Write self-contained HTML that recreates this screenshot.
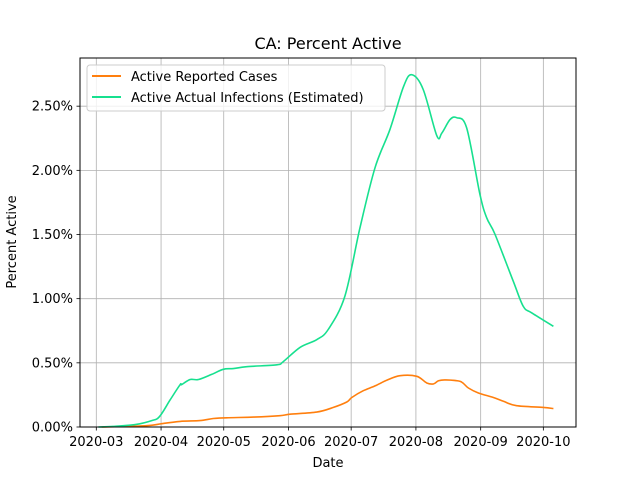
<!DOCTYPE html>
<html><head><meta charset="utf-8"><style>
body{margin:0;background:#fff;font-family:"Liberation Sans","DejaVu Sans",sans-serif}
svg text{font-family:"DejaVu Sans","Liberation Sans",sans-serif}
</style></head><body>
<svg id="chart" width="640" height="480" xmlns="http://www.w3.org/2000/svg">
<rect width="640" height="480" fill="#fff"/>
<text x="328" y="49" text-anchor="middle" font-size="16">CA: Percent Active</text>
<g id="grid"></g>
<g id="series"></g>
<rect x="80" y="58" width="496" height="369" fill="none" stroke="#000" stroke-width="1"/>
<g id="axes"></g>
<text x="328" y="467" text-anchor="middle" font-size="13">Date</text>
<text transform="translate(16,242) rotate(-90)" text-anchor="middle" font-size="13">Percent Active</text>
<g>
<rect x="87" y="65" width="298" height="46" rx="3" fill="#fff" fill-opacity="0.8" stroke="#ccc"/>
<line x1="92" y1="76" x2="121" y2="76" stroke="#ff7f0e" stroke-width="2"/>
<text x="131" y="81" font-size="13">Active Reported Cases</text>
<line x1="92" y1="97" x2="121" y2="97" stroke="#17e08f" stroke-width="2"/>
<text x="131" y="102" font-size="13">Active Actual Infections (Estimated)</text>
</g>
</svg>
<script>
const xTickLabels=["2020-03","2020-04","2020-05","2020-06","2020-07","2020-08","2020-09","2020-10"];
const xTickDays=[0,31,61,92,122,153,184,214];
const yTicks=[0,0.5,1.0,1.5,2.0,2.5];
const yTickLabels=["0.00%","0.50%","1.00%","1.50%","2.00%","2.50%"];
const actualDays=[1,8,19,26.5,30.2,35.3,40.1,40.8,44.9,48.9,55.2,60.8,65.6,72,86.4,89.5,97.5,105.5,111,119,126.2,133.4,140.6,147,151,156.5,163,165.4,169.3,172.5,177.3,183.7,186.9,190.9,199.6,204.4,208.4,218.8];
const actualVals=[0,0.005,0.02,0.05,0.08,0.21,0.33,0.33,0.37,0.37,0.41,0.45,0.455,0.47,0.485,0.51,0.62,0.68,0.76,1.02,1.55,2.02,2.32,2.65,2.745,2.63,2.27,2.29,2.395,2.41,2.33,1.81,1.63,1.50,1.135,0.94,0.89,0.785];
const reportedDays=[2.6,24,31.3,40.1,49.6,56,62.4,75.2,87.9,92.7,105.5,113.5,119.9,122.3,127.8,133.4,139,145.4,153.4,158.2,161.4,163.8,167,174.2,178.1,182.9,190.1,194.9,201.2,214,218.8];
const reportedVals=[0,0.01,0.026,0.044,0.05,0.066,0.072,0.077,0.088,0.1,0.116,0.153,0.195,0.23,0.283,0.32,0.364,0.40,0.395,0.343,0.336,0.36,0.367,0.355,0.304,0.265,0.23,0.2,0.166,0.153,0.143];
const NS="http://www.w3.org/2000/svg";
const xS=d=>96.3+d*2.089;
const yS=v=>427-v*128.33;
function mk(tag,attrs,parent){const e=document.createElementNS(NS,tag);for(const k in attrs)e.setAttribute(k,attrs[k]);parent.appendChild(e);return e;}
const grid=document.getElementById('grid'),axes=document.getElementById('axes'),series=document.getElementById('series');
xTickDays.forEach((d,i)=>{
  const x=xS(d);
  const g=mk('line',{x1:x,x2:x,y1:58,y2:427,stroke:'#b0b0b0','stroke-width':0.8},grid);
  
  
  const t=mk('line',{x1:x,x2:x,y1:427,y2:430.5,stroke:'#000','stroke-width':0.8},axes);
  
  
  const l=mk('text',{x:x,y:446,'text-anchor':'middle','font-size':13},axes);
  l.textContent=xTickLabels[i];
  
  
});
yTicks.forEach((v,i)=>{
  const y=yS(v);
  const g=mk('line',{x1:80,x2:576,y1:y,y2:y,stroke:'#b0b0b0','stroke-width':0.8},grid);
  
  
  const t=mk('line',{x1:76.5,x2:80,y1:y,y2:y,stroke:'#000','stroke-width':0.8},axes);
  
  
  const l=mk('text',{x:73,y:y+4.5,'text-anchor':'end','font-size':13},axes);
  l.textContent=yTickLabels[i];
  
  
});
function line(days,vals,color,name){
  const P=days.map((d,i)=>[xS(d),yS(vals[i])]);
  let dstr='M'+P[0][0].toFixed(1)+','+P[0][1].toFixed(1);
  for(let i=0;i<P.length-1;i++){
    const p0=P[Math.max(0,i-1)],p1=P[i],p2=P[i+1],p3=P[Math.min(P.length-1,i+2)];
    const c1=[p1[0]+(p2[0]-p0[0])/6,p1[1]+(p2[1]-p0[1])/6];
    const c2=[p2[0]-(p3[0]-p1[0])/6,p2[1]-(p3[1]-p1[1])/6];
    dstr+=' C'+c1[0].toFixed(1)+','+c1[1].toFixed(1)+' '+c2[0].toFixed(1)+','+c2[1].toFixed(1)+' '+p2[0].toFixed(1)+','+p2[1].toFixed(1);
  }
  const p=mk('path',{d:dstr,fill:'none',stroke:color,'stroke-width':1.6,'stroke-linejoin':'round'},series);
  
  
}
line(reportedDays,reportedVals,'#ff7f0e','reported-cases-line');
line(actualDays,actualVals,'#17e08f','actual-infections-line');
</script>
</body></html>
